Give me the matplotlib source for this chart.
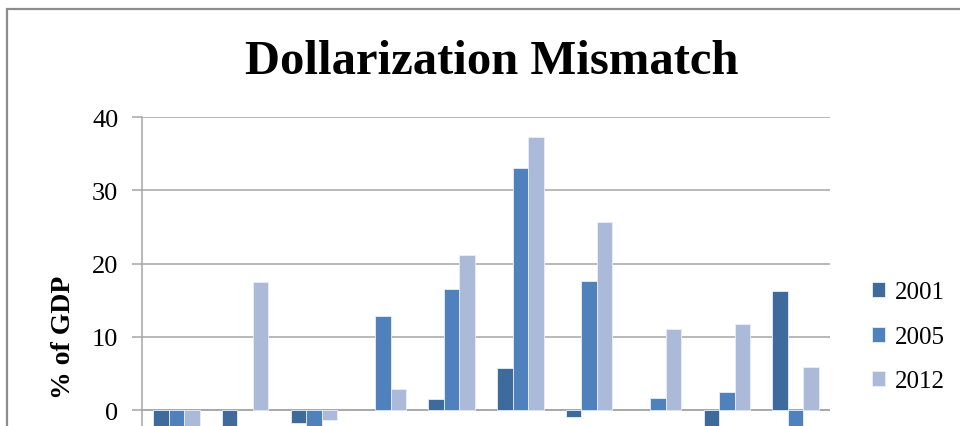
import matplotlib
matplotlib.use("Agg")
import matplotlib.pyplot as plt
from matplotlib.patches import Rectangle
import numpy as np

# values (negative bars are cut by the image edge, estimated)
groups = list(range(10))
years = ["2001", "2005", "2012"]
v2001 = [-4.0, -4.0, -1.8, 0.0, 1.5, 5.7, -1.0, 0.0, -4.0, 16.2]
v2005 = [-4.0, 0.0, -3.0, 12.8, 16.5, 33.0, 17.6, 1.6, 2.4, -4.0]
v2012 = [-3.0, 17.5, -1.3, 2.9, 21.2, 37.3, 25.7, 11.0, 11.7, 5.9]
colors = ["#3F6A9C", "#4F81BD", "#AABAD8"]
yticks = [0, 10, 20, 30, 40]

plt.rcParams['font.family'] = ['Liberation Serif', 'DejaVu Serif']

fig = plt.figure(figsize=(9.6, 4.27), dpi=100)
W, H = 960.0, 427.0

# chart border (goes past the cropped edges)
fig.patches.append(Rectangle((7 / W, -1), 2, 1 + (H - 10) / H, transform=fig.transFigure,
                             fill=False, edgecolor="#8C8C8C", lw=1.6))

ymin, ymax = -20, 40
px_per_unit = (411 - 118) / 40.0
bottom_px = 411 + (-ymin) * px_per_unit
ax = fig.add_axes([142 / W, (H - bottom_px) / H, 688 / W, (bottom_px - 118) / H])

x = np.arange(len(groups))
w = 0.225
for i, (vals, lab) in enumerate(zip([v2001, v2005, v2012], years)):
    lws = [0.6 if v != 0 else 0 for v in vals]
    ax.bar(x + (i - 1) * w, vals, w, color=colors[i], edgecolor="#E8EEF7", linewidth=lws,
           label=lab, zorder=3)

ax.set_xlim(-0.5, len(groups) - 0.5)
ax.set_ylim(ymin, ymax)
ax.set_yticks(yticks)
ax.set_xticks([])
ax.yaxis.grid(True, color="#A6A6A6", lw=1.1, zorder=0)
ax.axhline(0, color="#A6A6A6", lw=1.1, zorder=2)
for s in ["top", "right", "bottom"]:
    ax.spines[s].set_visible(False)
ax.spines["left"].set_color("#A6A6A6")
ax.spines["left"].set_linewidth(1.1)
ax.tick_params(axis="y", length=7, color="#A6A6A6", width=1.1, labelsize=19, pad=10)

fig.text(492 / W, (H - 62) / H, "Dollarization Mismatch", ha="center", va="center",
         fontsize=35, fontweight="bold")
fig.text(63 / W, (H - 337) / H, "% of GDP", rotation=90, ha="center", va="center",
         fontsize=20, fontweight="bold")

fig.legend(loc="center left", bbox_to_anchor=(849 / W, (H - 338) / H), frameon=False,
           fontsize=18, handlelength=0.55, handleheight=0.55, handletextpad=0.4,
           labelspacing=0.9)

fig.savefig("out.png", dpi=100)
